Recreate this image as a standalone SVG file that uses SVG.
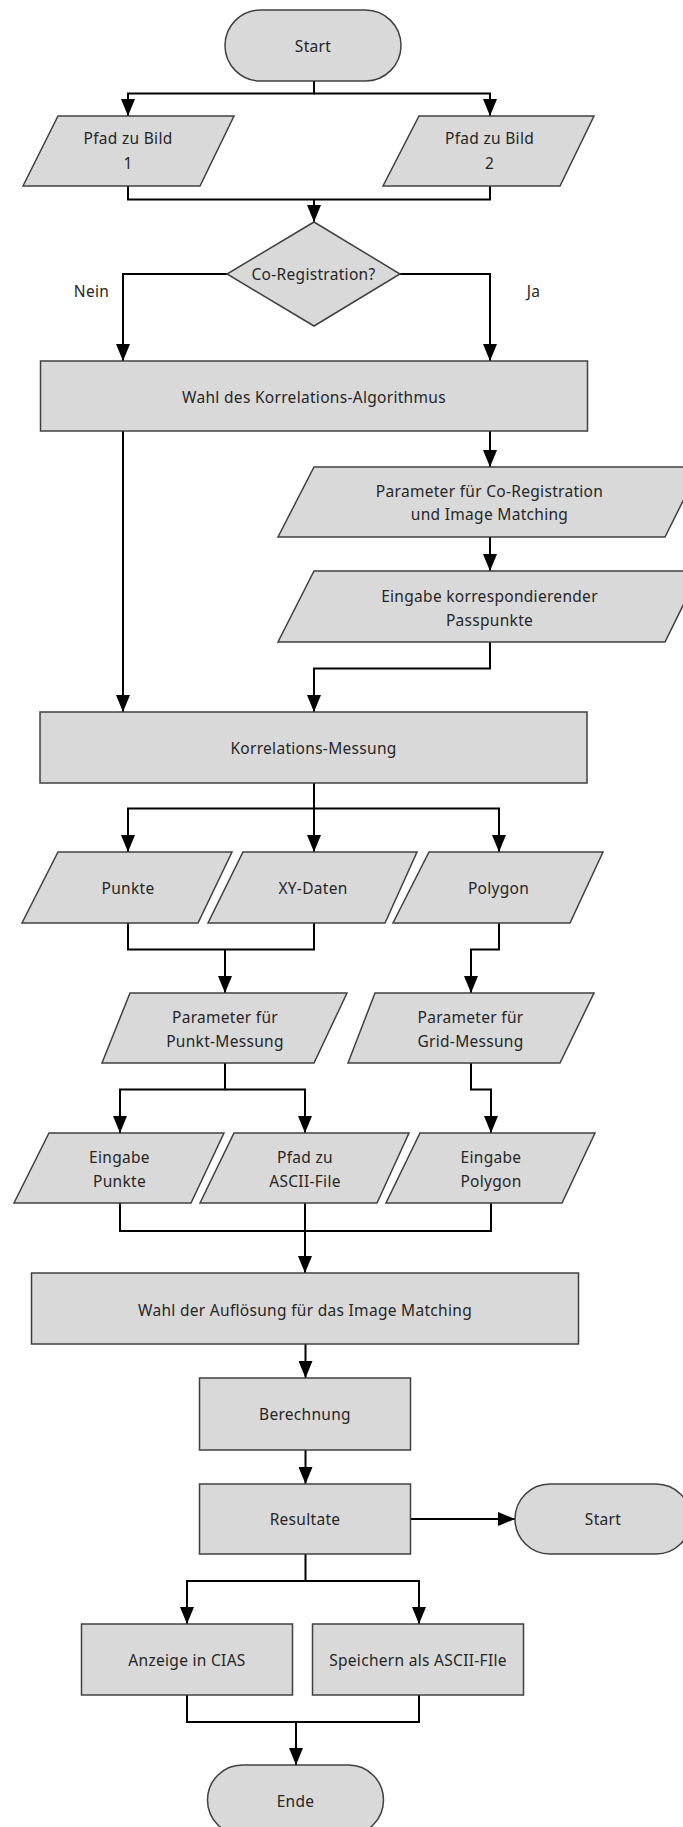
<svg xmlns="http://www.w3.org/2000/svg" width="683" height="1827" viewBox="0 0 683 1827">
<style>
.s{fill:#d9d9d9;stroke:#404040;stroke-width:1.5}
.c{fill:none;stroke:#000;stroke-width:2}
.a{marker-end:url(#ar)}
text{font-family:"Noto Sans","Liberation Sans",sans-serif;font-size:15.5px;letter-spacing:0.3px;fill:#262626;text-anchor:middle;dominant-baseline:central}
</style>
<defs>
<marker id="ar" markerUnits="userSpaceOnUse" markerWidth="17" markerHeight="14" viewBox="0 0 17 14" refX="17" refY="7" orient="auto">
<path d="M0,0 L17,7 L0,14 Z" fill="#000"/>
</marker>
</defs>
<rect width="683" height="1827" fill="#fff"/>
<g id="connectors">
<path class="c a" d="M314,81 V93.5 H128 V116"/>
<path class="c a" d="M314,93.5 H490 V116"/>
<path class="c" d="M128,186 V199.5 H490 V186"/>
<path class="c a" d="M314,199.5 V222"/>
<path class="c a" d="M227,274 H123 V361"/>
<path class="c a" d="M400,274 H490 V361"/>
<path class="c a" d="M123,431 V712"/>
<path class="c a" d="M490,431 V467"/>
<path class="c a" d="M490,537 V571"/>
<path class="c a" d="M490,642 V668.5 H314 V712"/>
<path class="c a" d="M314,783 V852"/>
<path class="c a" d="M314,808.5 H128 V852"/>
<path class="c a" d="M314,808.5 H499 V852"/>
<path class="c" d="M128,923 V949.5 H314 V923"/>
<path class="c a" d="M225,949.5 V993"/>
<path class="c a" d="M499,923 V949.5 H471 V993"/>
<path class="c a" d="M225,1063 V1089.5 H120 V1133"/>
<path class="c a" d="M225,1089.5 H305 V1133"/>
<path class="c a" d="M471,1063 V1089.5 H491 V1133"/>
<path class="c" d="M120,1203 V1231 H491 V1203"/>
<path class="c a" d="M305,1203 V1273"/>
<path class="c a" d="M305.5,1344 V1378"/>
<path class="c a" d="M305.5,1450 V1484"/>
<path class="c a" d="M410,1519 H515"/>
<path class="c a" d="M305.5,1554 V1581 H187 V1624"/>
<path class="c a" d="M305.5,1581 H419 V1624"/>
<path class="c" d="M187,1695 V1722 H419 V1695"/>
<path class="c a" d="M296,1722 V1765"/>
</g>
<g id="label-nein"><text x="91.5" y="291">Nein</text></g>
<g id="label-ja"><text x="533.5" y="291">Ja</text></g>
<g id="start"><rect class="s" x="225" y="10" width="176" height="71" rx="35.5"/><text x="313" y="45.5">Start</text></g>
<g id="pfad1"><polygon class="s" points="58,116 234,116 200,186 23,186"/><text x="128" y="138">Pfad zu Bild</text><text x="128" y="163">1</text></g>
<g id="pfad2"><polygon class="s" points="419,116 594,116 560,186 383,186"/><text x="489.5" y="138">Pfad zu Bild</text><text x="489.5" y="163">2</text></g>
<g id="coreg"><polygon class="s" points="314,222 400,274 314,326 227,274"/><text x="313.5" y="274">Co-Registration?</text></g>
<g id="wahl-algo"><rect class="s" x="40.5" y="361" width="547" height="70"/><text x="314" y="396.5">Wahl des Korrelations-Algorithmus</text></g>
<g id="param-coreg"><polygon class="s" points="314,467 700,467 665,537 278,537"/><text x="489.5" y="490.5">Parameter für Co-Registration</text><text x="489.5" y="513.5">und Image Matching</text></g>
<g id="eingabe-pass"><polygon class="s" points="314,571 700,571 665,642 278,642"/><text x="489.5" y="596">Eingabe korrespondierender</text><text x="489.5" y="619.5">Passpunkte</text></g>
<g id="korr-messung"><rect class="s" x="40" y="712" width="547" height="71"/><text x="313.5" y="747.5">Korrelations-Messung</text></g>
<g id="punkte"><polygon class="s" points="58,852 232,852 198,923 22,923"/><text x="128" y="887.5">Punkte</text></g>
<g id="xy-daten"><polygon class="s" points="243,852 417,852 385,923 208,923"/><text x="313" y="887.5">XY-Daten</text></g>
<g id="polygon"><polygon class="s" points="429,852 603,852 570,923 393,923"/><text x="498.5" y="887.5">Polygon</text></g>
<g id="param-punkt"><polygon class="s" points="130,993 347,993 314,1063 102,1063"/><text x="225" y="1016.5">Parameter für</text><text x="225" y="1040.5">Punkt-Messung</text></g>
<g id="param-grid"><polygon class="s" points="375,993 594,993 560,1063 348,1063"/><text x="470.5" y="1016.5">Parameter für</text><text x="470.5" y="1040.5">Grid-Messung</text></g>
<g id="eingabe-punkte"><polygon class="s" points="49,1133 224,1133 191,1203 14,1203"/><text x="119.5" y="1156.5">Eingabe</text><text x="119.5" y="1180.5">Punkte</text></g>
<g id="pfad-ascii"><polygon class="s" points="234,1133 409,1133 377,1203 200,1203"/><text x="305" y="1156.5">Pfad zu</text><text x="305" y="1180.5">ASCII-File</text></g>
<g id="eingabe-polygon"><polygon class="s" points="420,1133 595,1133 562,1203 386,1203"/><text x="491" y="1156.5">Eingabe</text><text x="491" y="1180.5">Polygon</text></g>
<g id="wahl-aufl"><rect class="s" x="31.5" y="1273" width="547" height="71"/><text x="305" y="1310">Wahl der Auflösung für das Image Matching</text></g>
<g id="berechnung"><rect class="s" x="199.5" y="1378" width="211" height="72"/><text x="305" y="1414">Berechnung</text></g>
<g id="resultate"><rect class="s" x="199.5" y="1484" width="211" height="70"/><text x="305" y="1519">Resultate</text></g>
<g id="start2"><rect class="s" x="515" y="1484" width="176" height="70" rx="35"/><text x="603" y="1519">Start</text></g>
<g id="anzeige"><rect class="s" x="81.5" y="1624" width="211" height="71"/><text x="187" y="1659.5">Anzeige in CIAS</text></g>
<g id="speichern"><rect class="s" x="312.5" y="1624" width="211" height="71"/><text x="418" y="1659.5">Speichern als ASCII-FIle</text></g>
<g id="ende"><rect class="s" x="207.5" y="1765" width="176" height="70" rx="35"/><text x="295.5" y="1801">Ende</text></g>
</svg>
